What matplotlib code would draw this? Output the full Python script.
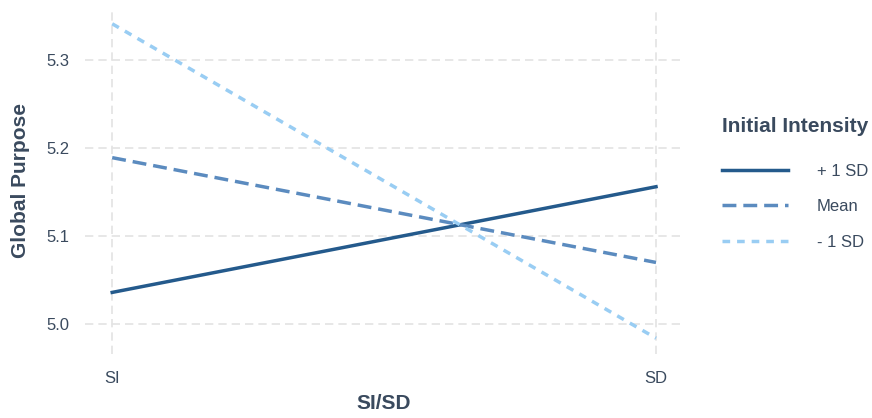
import matplotlib.pyplot as plt

plt.rcParams['font.family'] = ['Liberation Sans', 'DejaVu Sans']

conditions = ['SI', 'SD']
levels = ['+ 1 SD', 'Mean', '- 1 SD']
plus_sd = [5.036, 5.156]
mean = [5.189, 5.070]
minus_sd = [5.341, 4.984]
y_ticks = [5.0, 5.1, 5.2, 5.3]

text_col = '#3a4a5e'
colors = ['#245a8c', '#5b8bbf', '#99cdf3']
styles = [dict(linestyle='-'), dict(dashes=(4, 2)), dict(dashes=(2.2, 2.0))]

fig = plt.figure(figsize=(8.72, 4.18), dpi=100)
ax = fig.add_axes([0.0975, 0.153, 0.686, 0.828])

x = list(range(len(conditions)))
for vals, lab, c, st in zip([plus_sd, mean, minus_sd], levels, colors, styles):
    ax.plot(x, vals, color=c, lw=2.5, label=lab, **st)

ax.set_xlim(-0.05, 1.05)
ax.set_ylim(4.966, 5.359)
ax.set_xticks(x)
ax.set_xticklabels(conditions)
ax.set_yticks(y_ticks)
ax.set_yticklabels([f'{v:.1f}' for v in y_ticks])
ax.grid(True, color='#e3e3e3', linestyle=(0, (5, 3)), lw=1.2)
ax.set_axisbelow(True)
for s in ax.spines.values():
    s.set_visible(False)
ax.tick_params(length=0, labelsize=12, labelcolor=text_col)
ax.tick_params(axis='y', pad=11)
ax.tick_params(axis='x', pad=12)

ax.set_xlabel('SI/SD', fontsize=15, fontweight='bold', color=text_col, labelpad=6)
ax.set_ylabel('Global Purpose', fontsize=15, fontweight='bold', color=text_col, labelpad=12)

# legend body and title placed separately
leg = ax.legend(loc='center left', bbox_to_anchor=(0.8276, 0.5055), bbox_transform=fig.transFigure,
                frameon=False, fontsize=12, handlelength=3.96, handletextpad=1.74,
                labelspacing=1.23, borderaxespad=0, borderpad=0)
for t in leg.get_texts():
    t.set_color(text_col)
fig.text(0.8276, 1 - 126.7 / 418, 'Initial Intensity', fontsize=15, fontweight='bold',
         color=text_col, ha='left', va='center')

fig.savefig('out.png', dpi=100)
